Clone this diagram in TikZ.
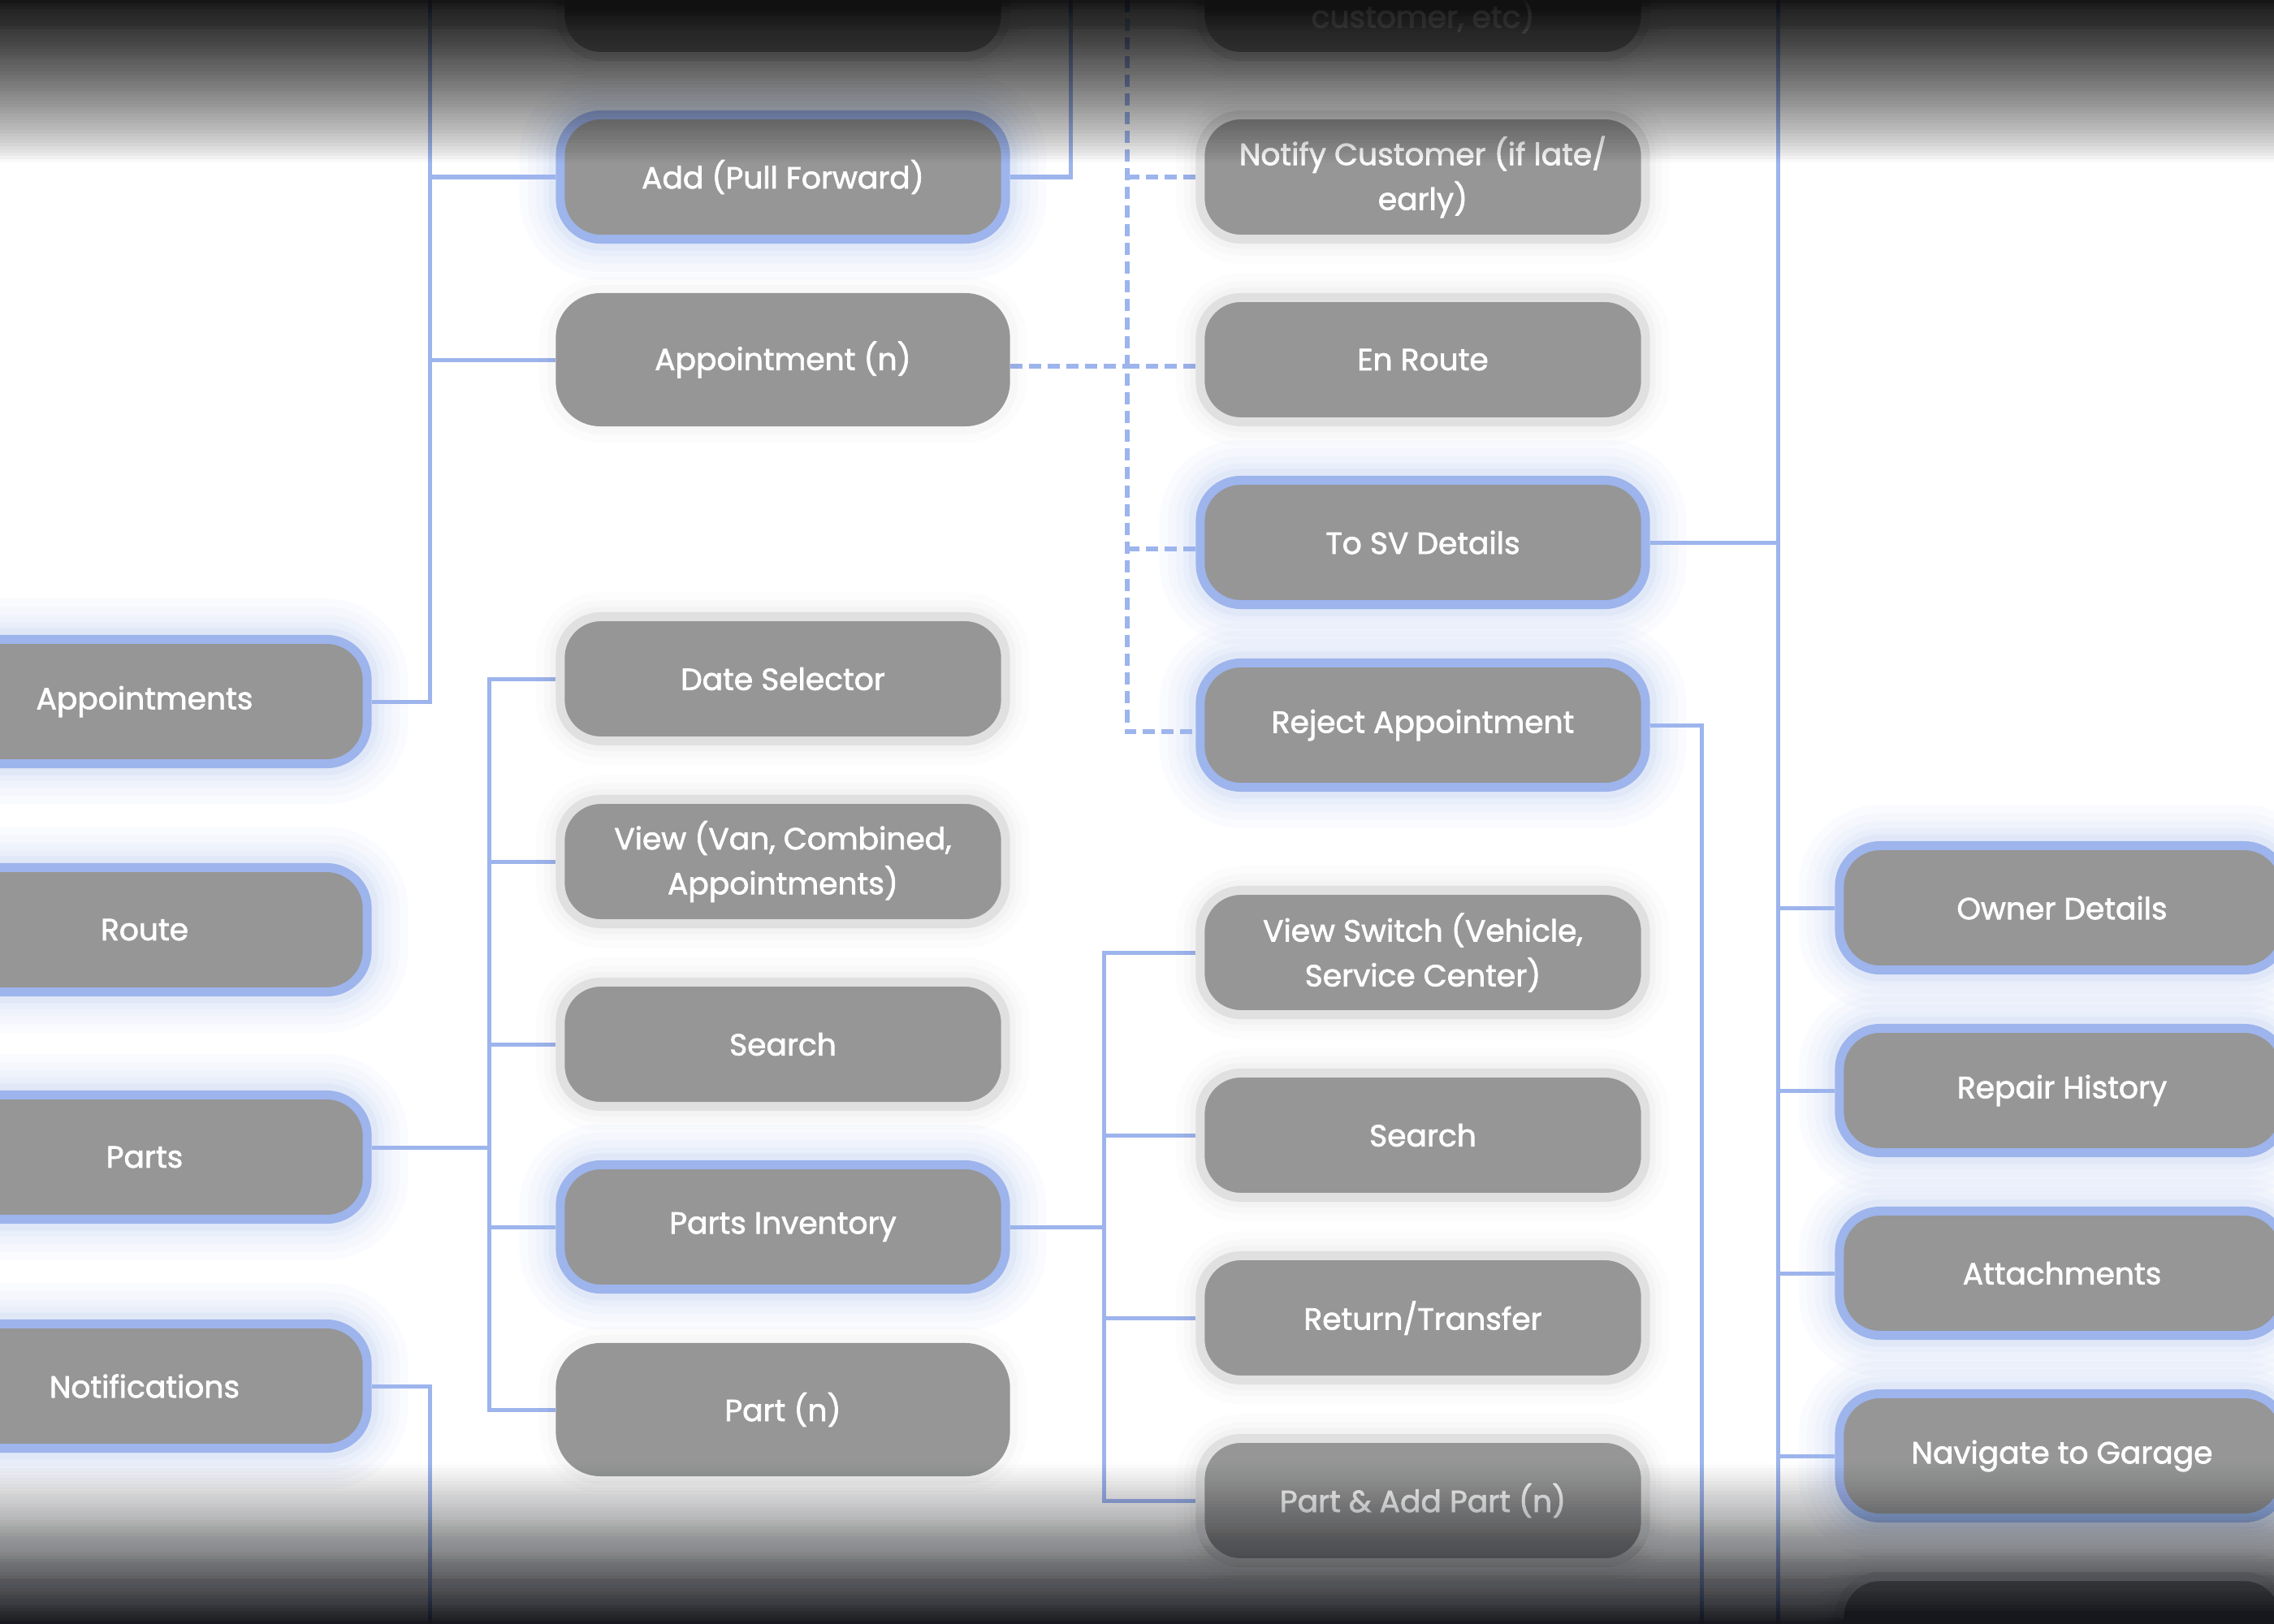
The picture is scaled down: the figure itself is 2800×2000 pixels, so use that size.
\documentclass[tikz,border=0pt]{standalone}
\usepackage{fontspec}
\setmainfont{Poppins}
\newfontfamily\nodefont{Poppins}[FakeBold=1.8]
\definecolor{nodefill}{HTML}{969696}
\definecolor{bluebd}{HTML}{9DB4EC}
\definecolor{graybd}{HTML}{E0E0E0}
\definecolor{linec}{HTML}{9DB4EC}
\definecolor{vigtop}{HTML}{111111}
\definecolor{vigbot}{HTML}{15171C}
\pgfdeclarelayer{back}
\pgfdeclarelayer{lines}
\pgfdeclarelayer{front}
\pgfsetlayers{back,lines,main,front}
\tikzset{
  base/.style={rectangle, rounded corners=0.5cm, fill=nodefill, text=white, align=center,
    inner sep=0pt, font=\nodefont\fontsize{10.7pt}{15.7pt}\selectfont,
    minimum width=5.48cm, minimum height=1.53cm, line width=0.11cm},
  bluebox/.style={base, draw=bluebd,
    preaction={draw=bluebd, line width=1.0cm, opacity=0.045},
    preaction={draw=bluebd, line width=0.8cm, opacity=0.05},
    preaction={draw=bluebd, line width=0.6cm, opacity=0.06},
    preaction={draw=bluebd, line width=0.42cm, opacity=0.08},
    preaction={draw=bluebd, line width=0.28cm, opacity=0.10}},
  graybox/.style={base, draw=graybd,
    preaction={draw=black, line width=0.6cm, opacity=0.012},
    preaction={draw=black, line width=0.4cm, opacity=0.015},
    preaction={draw=black, line width=0.25cm, opacity=0.02}},
  plainbox/.style={base, rounded corners=0.55cm, minimum width=5.59cm, minimum height=1.64cm, line width=0pt,
    preaction={draw=black, line width=0.4cm, opacity=0.012},
    preaction={draw=black, line width=0.2cm, opacity=0.02}},
  lbl/.style={text=white, font=\nodefont\fontsize{10.7pt}{15.7pt}\selectfont, inner sep=0pt},
  conn/.style={draw=linec, line width=0.05cm},
  dconn/.style={conn, line width=0.055cm, dash pattern=on 0.15cm off 0.08cm},
  dn/.style={yshift=-2.3pt},
}
\begin{document}
\begin{tikzpicture}[x=0.01cm, y=-0.01cm]
\useasboundingbox (0,0) rectangle (2800,2000);
\begin{pgfonlayer}{back}
\fill[white] (0,0) rectangle (2800,2000);
\end{pgfonlayer}

% column 1
\node[bluebox] (appts) at (178,864) {Appointments};
\node[bluebox] (route) at (178,1145) {Route};
\node[bluebox] (parts) at (178,1425) {Parts};
\node[bluebox] (notif) at (178,1707) {Notifications};

% column 2
\node[graybox] (c2top) at (964,-7) {};
\node[bluebox] (addpf) at (964,218) {Add (Pull Forward)};
\node[plainbox] (apptn) at (964,443) {Appointment (n)};
\node[graybox] (datesel) at (964,836) {Date Selector};
\node[graybox] (viewvan) at (964,1061) {View (Van, Combined,\\Appointments)};
\node[graybox] (search2) at (964,1286) {Search};
\node[bluebox] (pinv) at (964,1511) {Parts Inventory};
\node[plainbox] (partn) at (964,1736) {Part (n)};

% column 3
\node[graybox] (c3top) at (1752,-7) {};
\node[lbl] (c3toptxt) at (1752,20) {customer, etc)};
\node[graybox] (notify) at (1752,218) {Notify Customer (if late/\\early)};
\node[graybox] (enroute) at (1752,443) {En Route};
\node[bluebox] (tosv) at (1752,668) {To SV Details};
\node[bluebox] (reject) at (1752,893) {Reject Appointment};
\node[graybox] (vswitch) at (1752,1173) {View Switch (Vehicle,\\Service Center)};
\node[graybox] (search3) at (1752,1398) {Search};
\node[graybox] (rettr) at (1752,1623) {Return/Transfer};
\node[graybox] (partadd) at (1752,1848) {Part \& Add Part (n)};

% column 4
\node[bluebox] (owner) at (2539,1118) {Owner Details};
\node[bluebox] (repair) at (2539,1343) {Repair History};
\node[bluebox] (attach) at (2539,1568) {Attachments};
\node[bluebox] (navig) at (2539,1793) {Navigate to Garage};
\node[graybox] (c4next) at (2539,2018) {};

% free ends
\coordinate (tA) at (529,0);
\coordinate (tB) at (529,2000);
\coordinate (tC) at (1318,0);
\coordinate (tD) at (1388,0);
\coordinate (tE) at (2189,0);
\coordinate (tF) at (2189,2000);
\coordinate (tG) at (2095,2000);
\coordinate (xP) at (602,0);
\coordinate (xQ) at (1359,0);
\coordinate (apE) at ([dn]apptn.east);
\coordinate (rjW) at ([dn]reject.west);
\coordinate (erW) at ([dn]enroute.west);
\coordinate (svW) at ([dn]tosv.west);
\coordinate (ptE) at ([yshift=3.4pt]parts.east);

\begin{pgfonlayer}{lines}
% Appointments tree
\draw[conn] (appts.east) -| (tA);
\draw[conn] (c2top.west) -- (c2top.west -| tA);
\draw[conn] (addpf.west) -- (addpf.west -| tA);
\draw[conn] (apptn.west) -- (apptn.west -| tA);
% Add (Pull Forward) upward
\draw[conn] (addpf.east) -| (tC);
% Appointment (n) dashed tree
\draw[dconn] (apE) -- (apE -| tD);
\draw[dconn] (tD) -- (tD |- rjW) -- (rjW);
\draw[dconn] (c3top.west -| tD) -- (c3top.west);
\draw[dconn] (notify.west -| tD) -- (notify.west);
\draw[dconn] (erW -| tD) -- (erW);
\draw[dconn] (svW -| tD) -- (svW);
% To SV Details tree
\draw[conn] (tE) -- (tF);
\draw[conn] (tosv.east) -- (tosv.east -| tE);
\draw[conn] (owner.west -| tE) -- (owner.west);
\draw[conn] (repair.west -| tE) -- (repair.west);
\draw[conn] (attach.west -| tE) -- (attach.west);
\draw[conn] (navig.west -| tE) -- (navig.west);
\draw[conn] (c4next.west -| tE) -- (c4next.west);
% Reject Appointment downward
\draw[conn] (reject.east) -| (tG);
% Parts tree
\draw[conn] (ptE) -- (ptE -| xP);
\draw[conn] (datesel.west) -- (datesel.west -| xP) -- (partn.west -| xP) -- (partn.west);
\draw[conn] (viewvan.west -| xP) -- (viewvan.west);
\draw[conn] (search2.west -| xP) -- (search2.west);
\draw[conn] (pinv.west -| xP) -- (pinv.west);
% Parts Inventory tree
\draw[conn] (pinv.east) -- (pinv.east -| xQ);
\draw[conn] (vswitch.west) -- (vswitch.west -| xQ) -- (partadd.west -| xQ) -- (partadd.west);
\draw[conn] (search3.west -| xQ) -- (search3.west);
\draw[conn] (rettr.west -| xQ) -- (rettr.west);
% Notifications downward
\draw[conn] (notif.east) -| (tB);
\end{pgfonlayer}

% vignette: stacked translucent bands
\begin{pgfonlayer}{front}
\foreach \k in {1,...,50} {
  \pgfmathsetmacro{\uk}{(\k-0.5)/50}
  \pgfmathsetmacro{\un}{max(1-(\k+0.5)/50,0.0001)}
  \pgfmathsetmacro{\Tk}{0.93*(1-\uk)^0.8}
  \pgfmathsetmacro{\Tn}{0.93*(\un)^0.8}
  \pgfmathsetmacro{\ak}{max(1-(1-\Tk)/(1-\Tn),0)}
  \fill[vigtop, opacity=\ak] (0,0) rectangle (2800,{\k*4});
  \pgfmathsetmacro{\Bk}{0.92*(1-\uk)^1.1}
  \pgfmathsetmacro{\Bn}{0.92*(\un)^1.1}
  \pgfmathsetmacro{\bk}{max(1-(1-\Bk)/(1-\Bn),0)}
  \fill[vigbot, opacity=\bk] (0,{2000-\k*4}) rectangle (2800,2000);
}
\end{pgfonlayer}
\end{tikzpicture}
\end{document}
